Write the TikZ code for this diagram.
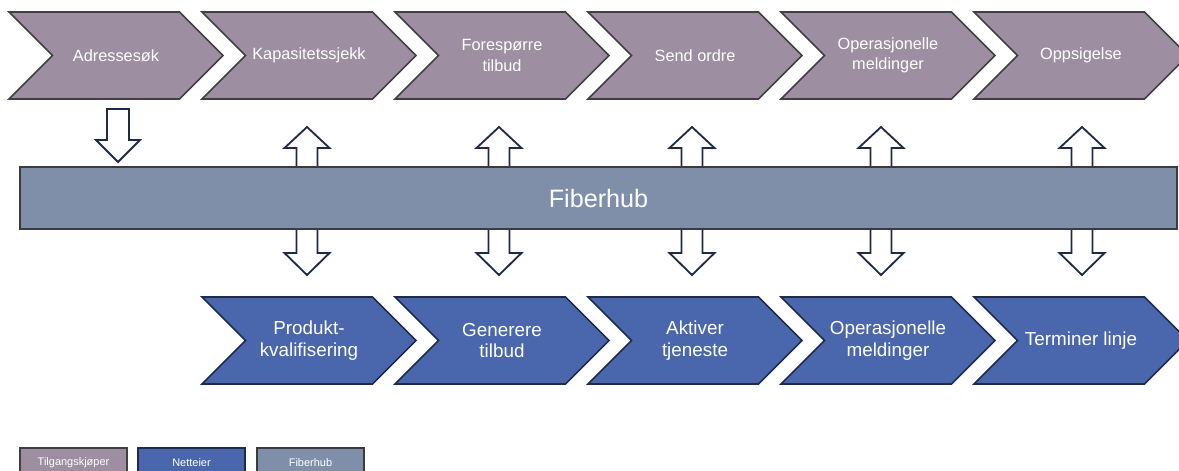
\documentclass[tikz,border=0pt]{standalone}
\usepackage{fontspec}
\setmainfont{Liberation Sans}
\usepackage{tikz}
\usetikzlibrary{shapes.symbols, positioning}
\definecolor{buyercolor}{RGB}{157, 143, 161}
\definecolor{buyerline}{RGB}{64, 64, 64}
\definecolor{ownercolor}{RGB}{74, 102, 172}
\definecolor{ownerline}{RGB}{31, 43, 77}
\definecolor{hubcolor}{RGB}{127, 143, 169}
\definecolor{hubline}{RGB}{59, 59, 59}
\definecolor{arrowline}{RGB}{31, 42, 68}

\begin{document}
\begin{tikzpicture}[
    x=0.025cm, y=-0.025cm,
    chevron/.style={signal, signal from=west, signal to=east, minimum width=5.35cm, minimum height=2.175cm, inner sep=0pt, text=white, align=center, line width=1.1pt},
    buyer/.style={chevron, draw=buyerline, fill=buyercolor, font=\fontsize{11.6}{14.5}\selectfont},
    owner/.style={chevron, draw=ownerline, fill=ownercolor, font=\fontsize{13.4}{15.5}\selectfont},
    hubbar/.style={draw=hubline, fill=hubcolor, minimum width=28.925cm, minimum height=1.55cm, inner sep=0pt, text=white, font=\fontsize{17.9}{20}\selectfont, line width=1.1pt},
    legend/.style={minimum width=2.675cm, minimum height=0.75cm, inner sep=0pt, text=white, font=\fontsize{7.8}{9}\selectfont, line width=1.1pt},
    blockarrow/.style={draw=arrowline, fill=white, line width=1.3pt, line join=miter}
]
    \useasboundingbox (0,0) rectangle (1179,470);

    % Block arrows (behind the hub)
    \draw[blockarrow] (107,109) -- (129,109) -- (129,140) -- (140,140) -- (118,162) -- (96,140) -- (107,140) -- cycle;
    \foreach \c in {307, 499, 692, 881, 1082}
        \draw[blockarrow] (\c,127) -- (\c+22.5,148) -- (\c+10.5,148) -- (\c+10.5,253) -- (\c+22.5,253) -- (\c,275)
            -- (\c-22.5,253) -- (\c-10.5,253) -- (\c-10.5,148) -- (\c-22.5,148) -- cycle;

    % Hub
    \node[hubbar] (hub) at (598.5,198) {Fiberhub};

    % Tilgangskjøper steps
    \node[buyer] (sok) at (116,55.5) {Adressesøk};
    \node[buyer] (kap) at (309,55.5) {Kapasitetssjekk};
    \node[buyer] (tilbud) at (502,55.5) {Forespørre\\tilbud};
    \node[buyer] (ordre) at (695,55.5) {Send ordre};
    \node[buyer] (drift) at (888,55.5) {Operasjonelle\\meldinger};
    \node[buyer] (oppsig) at (1081,55.5) {Oppsigelse};

    % Netteier steps
    \node[owner] (kval) at (309,340.5) {Produkt-\\kvalifisering};
    \node[owner] (gentilbud) at (502,340.5) {Generere\\tilbud};
    \node[owner] (aktiver) at (695,340.5) {Aktiver\\tjeneste};
    \node[owner] (meld) at (888,340.5) {Operasjonelle\\meldinger};
    \node[owner] (term) at (1081,340.5) {Terminer linje};

    % Legend
    \node[legend, draw=buyerline, fill=buyercolor] (legbuyer) at (73.5,463) {Tilgangskjøper};
    \node[legend, draw=ownerline, fill=ownercolor] (legowner) at (191.5,463) {Netteier};
    \node[legend, draw=hubline, fill=hubcolor] (leghub) at (310.5,463) {Fiberhub};
\end{tikzpicture}
\end{document}
